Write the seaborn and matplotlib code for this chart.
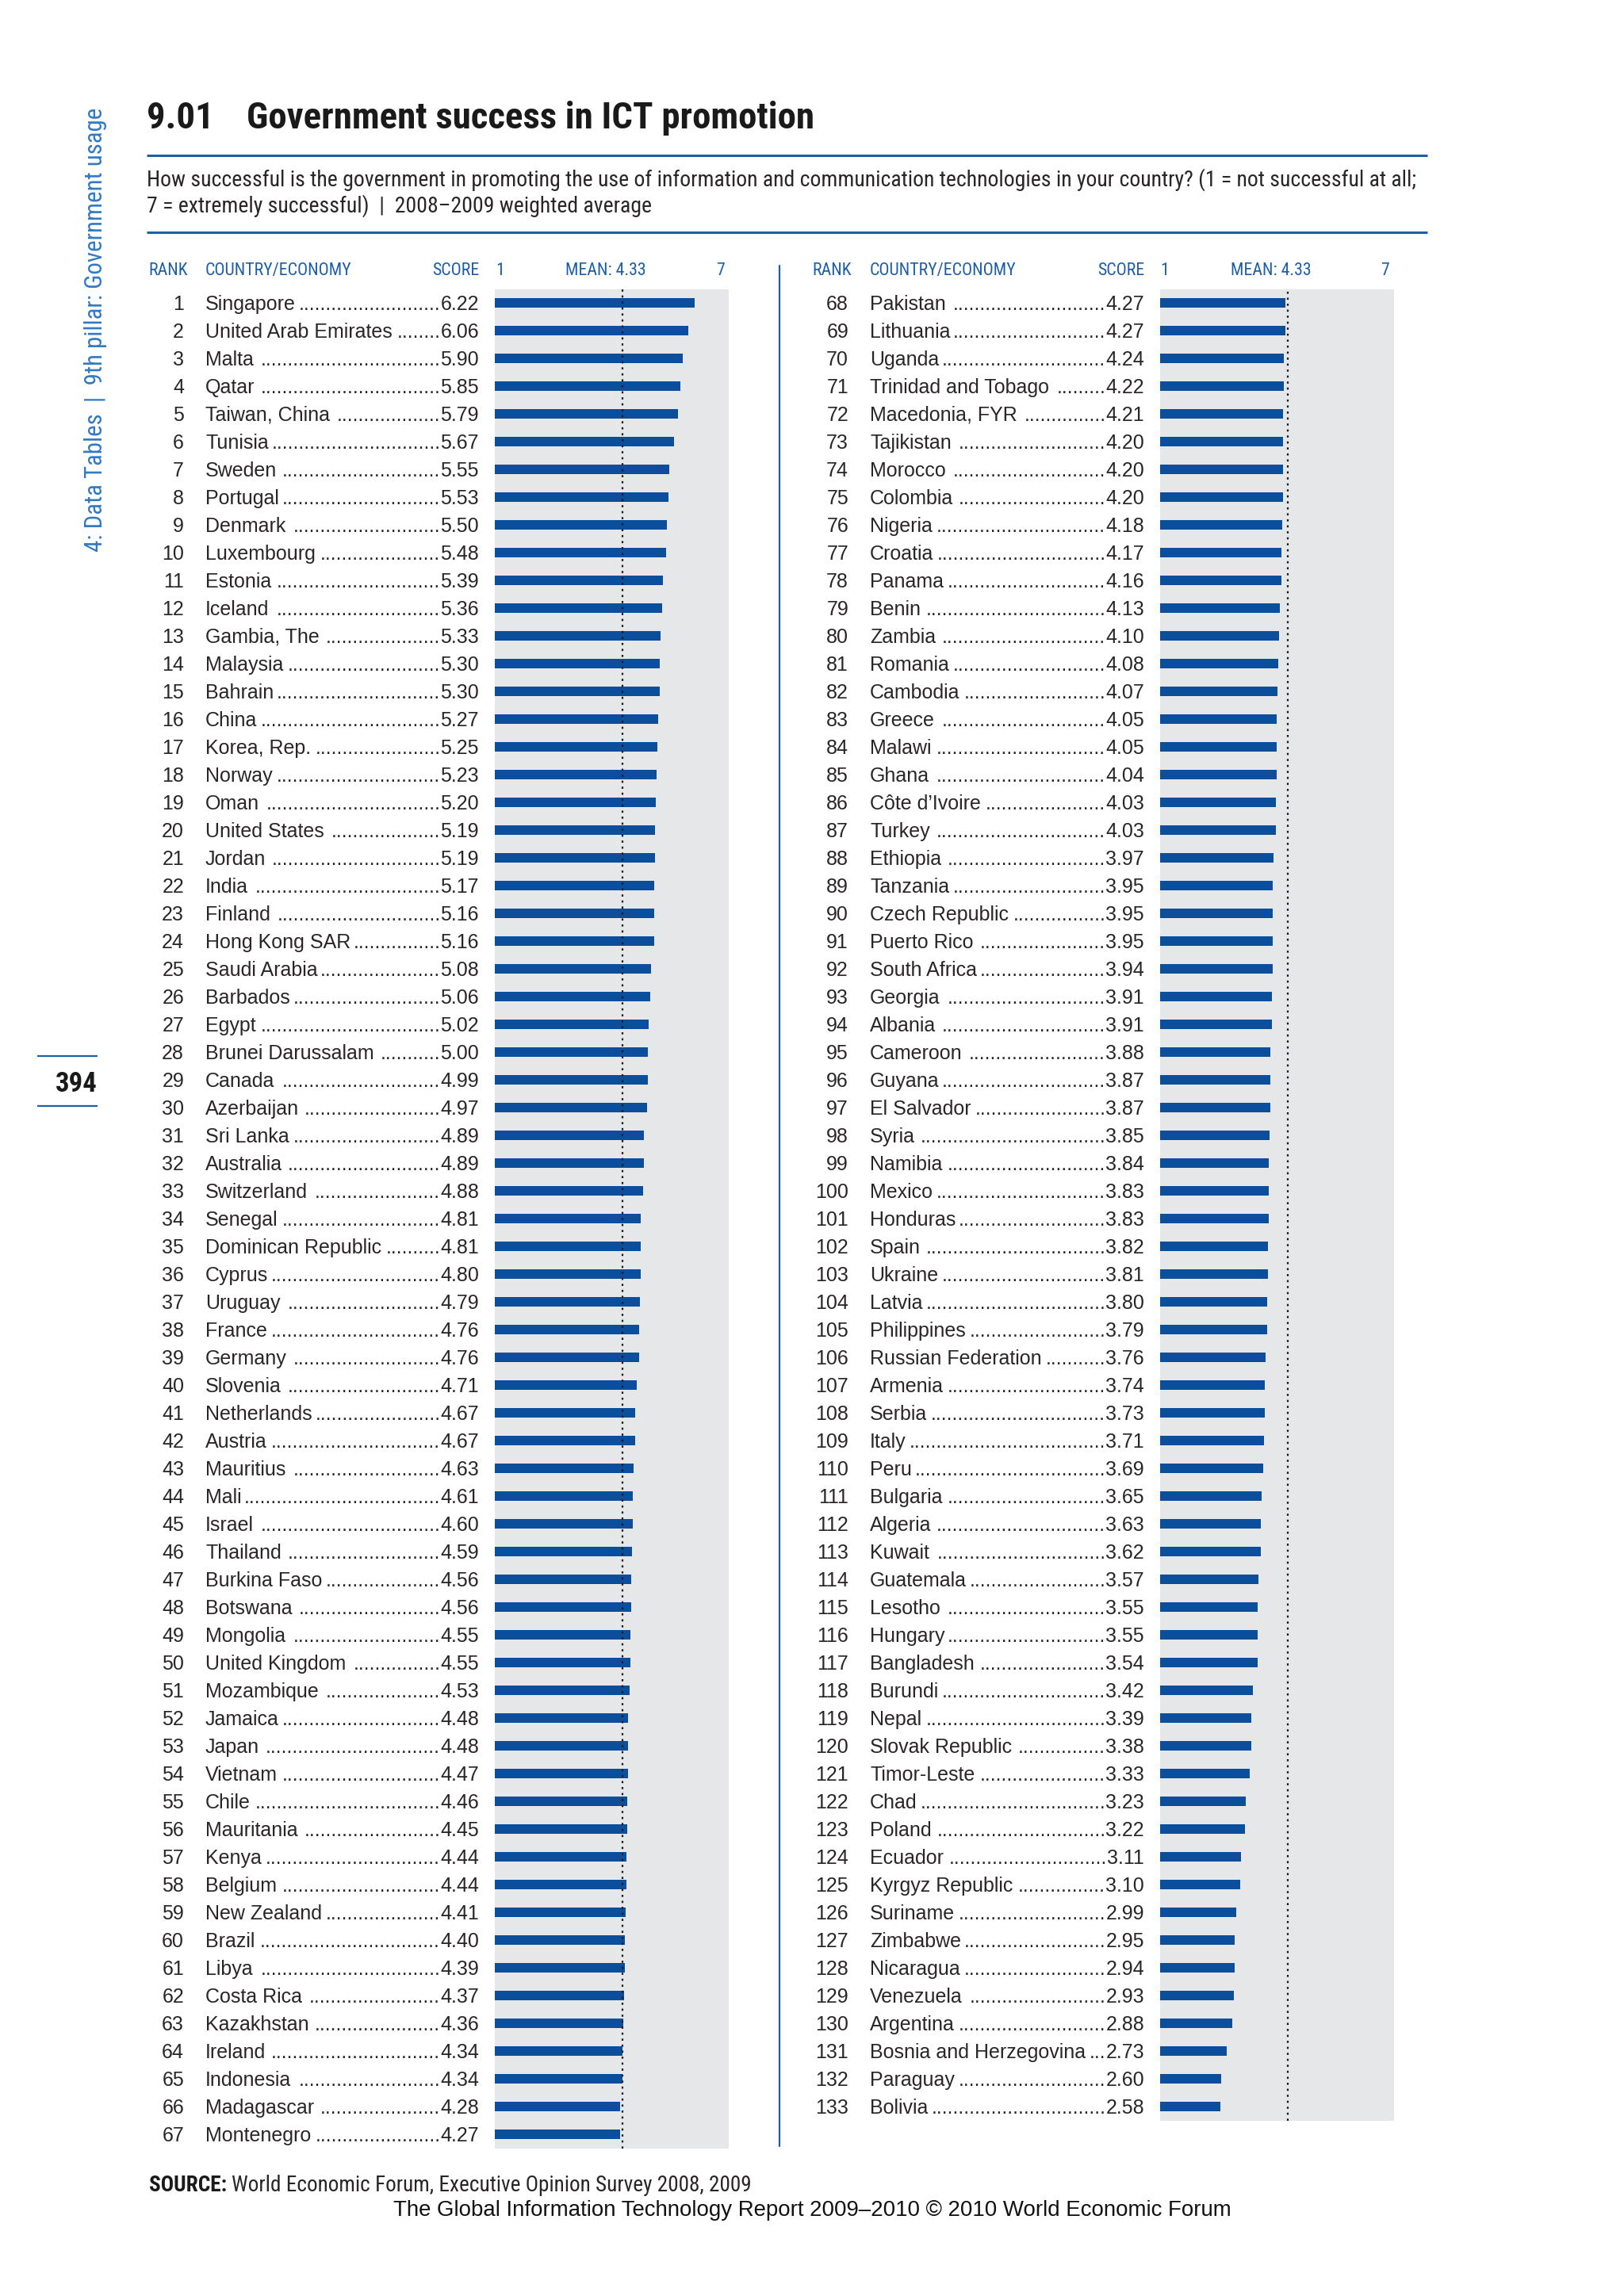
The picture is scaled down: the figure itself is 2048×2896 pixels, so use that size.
import matplotlib
matplotlib.use("Agg")
import matplotlib.pyplot as plt
import matplotlib.transforms as mtransforms
from matplotlib.lines import Line2D
from matplotlib import font_manager
import pandas as pd
import seaborn as sns

# ---------------- data ----------------
ranks_left = list(range(1, 68))
countries_left = [
    "Singapore", "United Arab Emirates", "Malta", "Qatar", "Taiwan, China", "Tunisia",
    "Sweden", "Portugal", "Denmark", "Luxembourg", "Estonia", "Iceland", "Gambia, The",
    "Malaysia", "Bahrain", "China", "Korea, Rep.", "Norway", "Oman", "United States",
    "Jordan", "India", "Finland", "Hong Kong SAR", "Saudi Arabia", "Barbados", "Egypt",
    "Brunei Darussalam", "Canada", "Azerbaijan", "Sri Lanka", "Australia", "Switzerland",
    "Senegal", "Dominican Republic", "Cyprus", "Uruguay", "France", "Germany", "Slovenia",
    "Netherlands", "Austria", "Mauritius", "Mali", "Israel", "Thailand", "Burkina Faso",
    "Botswana", "Mongolia", "United Kingdom", "Mozambique", "Jamaica", "Japan", "Vietnam",
    "Chile", "Mauritania", "Kenya", "Belgium", "New Zealand", "Brazil", "Libya",
    "Costa Rica", "Kazakhstan", "Ireland", "Indonesia", "Madagascar", "Montenegro",
]
scores_left = [
    6.22, 6.06, 5.90, 5.85, 5.79, 5.67, 5.55, 5.53, 5.50, 5.48, 5.39, 5.36, 5.33, 5.30,
    5.30, 5.27, 5.25, 5.23, 5.20, 5.19, 5.19, 5.17, 5.16, 5.16, 5.08, 5.06, 5.02, 5.00,
    4.99, 4.97, 4.89, 4.89, 4.88, 4.81, 4.81, 4.80, 4.79, 4.76, 4.76, 4.71, 4.67, 4.67,
    4.63, 4.61, 4.60, 4.59, 4.56, 4.56, 4.55, 4.55, 4.53, 4.48, 4.48, 4.47, 4.46, 4.45,
    4.44, 4.44, 4.41, 4.40, 4.39, 4.37, 4.36, 4.34, 4.34, 4.28, 4.27,
]
ranks_right = list(range(68, 134))
countries_right = [
    "Pakistan", "Lithuania", "Uganda", "Trinidad and Tobago", "Macedonia, FYR",
    "Tajikistan", "Morocco", "Colombia", "Nigeria", "Croatia", "Panama", "Benin", "Zambia",
    "Romania", "Cambodia", "Greece", "Malawi", "Ghana", "Côte d’Ivoire", "Turkey",
    "Ethiopia", "Tanzania", "Czech Republic", "Puerto Rico", "South Africa", "Georgia",
    "Albania", "Cameroon", "Guyana", "El Salvador", "Syria", "Namibia", "Mexico",
    "Honduras", "Spain", "Ukraine", "Latvia", "Philippines", "Russian Federation",
    "Armenia", "Serbia", "Italy", "Peru", "Bulgaria", "Algeria", "Kuwait", "Guatemala",
    "Lesotho", "Hungary", "Bangladesh", "Burundi", "Nepal", "Slovak Republic",
    "Timor-Leste", "Chad", "Poland", "Ecuador", "Kyrgyz Republic", "Suriname", "Zimbabwe",
    "Nicaragua", "Venezuela", "Argentina", "Bosnia and Herzegovina", "Paraguay", "Bolivia",
]
scores_right = [
    4.27, 4.27, 4.24, 4.22, 4.21, 4.20, 4.20, 4.20, 4.18, 4.17, 4.16, 4.13, 4.10, 4.08,
    4.07, 4.05, 4.05, 4.04, 4.03, 4.03, 3.97, 3.95, 3.95, 3.95, 3.94, 3.91, 3.91, 3.88,
    3.87, 3.87, 3.85, 3.84, 3.83, 3.83, 3.82, 3.81, 3.80, 3.79, 3.76, 3.74, 3.73, 3.71,
    3.69, 3.65, 3.63, 3.62, 3.57, 3.55, 3.55, 3.54, 3.42, 3.39, 3.38, 3.33, 3.23, 3.22,
    3.11, 3.10, 2.99, 2.95, 2.94, 2.93, 2.88, 2.73, 2.60, 2.58,
]
MEAN = 4.33
scale_labels = ["1", "MEAN: 4.33", "7"]
header_labels = ["RANK", "COUNTRY/ECONOMY", "SCORE"]
title_number = "9.01"
title_text = "Government success in ICT promotion"
subtitle_1 = ("How successful is the government in promoting the use of information and "
              "communication technologies in your country? (1 = not successful at all;")
subtitle_2 = "7 = extremely successful)  |  2008–2009 weighted average"
sidebar_text = "4: Data Tables  |  9th pillar: Government usage"
page_number = "394"
source_bold = "SOURCE:"
source_text = "World Economic Forum, Executive Opinion Survey 2008, 2009"
footer_text = "The Global Information Technology Report 2009–2010 © 2010 World Economic Forum"

# ---------------- style ----------------
sns.set_theme(style="white")
names = {f.name for f in font_manager.fontManager.ttflist}


def pick(cands):
    for c in cands:
        if c in names:
            return c
    return "DejaVu Sans"


NARROW = pick(["Liberation Sans Narrow", "Roboto Condensed", "Open Sans Condensed",
               "Liberation Sans"])
REG = pick(["Liberation Sans", "Arial", "DejaVu Sans"])
plt.rcParams["font.family"] = [REG, "DejaVu Sans"]

BAR = "#0b4f9c"
GRAY = "#e6e7e9"
BLUE = "#1f5fa6"
HEAD = "#1d5ea8"
SIDE = "#3279c2"
TXT = "#2a2627"

W, H = 2048, 2896
fig = plt.figure(figsize=(W / 100, H / 100), dpi=100)
fig.patch.set_facecolor("white")
renderer = fig.canvas.get_renderer()


def fx(x):
    return x / W


def fy(y):
    return 1 - y / H


def fit_width(t, target):
    w = t.get_window_extent(renderer).width
    t.set_fontsize(t.get_fontsize() * target / w)


def hline(x0, x1, y, lw=2.2, color=BLUE):
    fig.add_artist(Line2D([fx(x0), fx(x1)], [fy(y), fy(y)], transform=fig.transFigure,
                          color=color, lw=lw, solid_capstyle="butt"))


# ---------------- header ----------------
t_main = fig.text(fx(311), fy(162), title_text, fontsize=33, fontweight="bold",
                  family=[NARROW, "DejaVu Sans"], color="#1a1a1a", ha="left", va="baseline")
fit_width(t_main, 717)
fig.text(fx(185), fy(162), title_number, fontsize=t_main.get_fontsize(), fontweight="bold",
         family=[NARROW, "DejaVu Sans"], color="#1a1a1a", ha="left", va="baseline")
hline(185, 1800, 196)
t_s1 = fig.text(fx(185), fy(235), subtitle_1, fontsize=17, family=[NARROW, "DejaVu Sans"],
                color=TXT, ha="left", va="baseline")
fit_width(t_s1, 1598)
fig.text(fx(185), fy(268), subtitle_2, fontsize=t_s1.get_fontsize(),
         family=[NARROW, "DejaVu Sans"], color=TXT, ha="left", va="baseline")
hline(185, 1800, 293)

# sidebar
t_side = fig.text(fx(121), fy(416), sidebar_text, rotation=90, fontsize=18,
                  family=[NARROW, "DejaVu Sans"], color=SIDE, ha="center", va="center")
bb = t_side.get_window_extent(renderer)
t_side.set_fontsize(t_side.get_fontsize() * 560 / bb.height)
hline(47, 123, 1332, lw=1.6)
hline(47, 123, 1395, lw=1.6)
fig.text(fx(123), fy(1377), page_number, fontsize=25, fontweight="bold",
         family=[NARROW, "DejaVu Sans"], color="#1a1a1a", ha="right", va="baseline")

# divider
fig.add_artist(Line2D([fx(983), fx(983)], [fy(335), fy(2707)], transform=fig.transFigure,
                      color=BLUE, lw=1.6))

# ---------------- panels ----------------
SCALE = 48.3      # px per score unit
PANEL_W = 295
ROW = 35
TOP = 364.5
xmax = 1 + PANEL_W / SCALE
ROW_FS = 18
cap_half = 0.716 * ROW_FS / 72 / 2  # inches

columns = [
    dict(x_bar=624, x_rank=232, x_name=259, x_score=604,
         ranks=ranks_left, countries=countries_left, scores=scores_left,
         heads=[187, 259, 604], scl=[631, 764, 908]),
    dict(x_bar=1463, x_rank=1070, x_name=1097, x_score=1443,
         ranks=ranks_right, countries=countries_right, scores=scores_right,
         heads=[1024, 1097, 1443], scl=[1469, 1603, 1746]),
]

# measure dot width
t_dot = fig.text(0, 0, "." * 40, fontsize=ROW_FS, family=[REG, "DejaVu Sans"])
dot_w = t_dot.get_window_extent(renderer).width / 40
t_dot.remove()

head_fs = None
for col in columns:
    n = len(col["scores"])
    h = n * ROW
    ax = fig.add_axes([fx(col["x_bar"]), fy(TOP + h), PANEL_W / W, h / H])
    df = pd.DataFrame({"rank": col["ranks"], "country": col["countries"],
                       "score": col["scores"]})
    sns.barplot(data=df, x="score", y="country", orient="h", color=BAR, width=0.36,
                saturation=1, edgecolor="none", linewidth=0, ax=ax)
    ax.set_xlim(1, xmax)
    ax.set_ylim(n - 0.5, -0.5)
    ax.set_facecolor(GRAY)
    ax.axvline(MEAN, color="#1a1a1a", lw=1.6, linestyle=(0, (1.2, 2.2)))
    ax.set_xticks([])
    ax.set_yticks([])
    ax.set_xlabel("")
    ax.set_ylabel("")
    for s in ax.spines.values():
        s.set_visible(False)

    trans = mtransforms.blended_transform_factory(fig.transFigure, ax.transData)
    off = mtransforms.ScaledTranslation(0, -cap_half, fig.dpi_scale_trans)
    tr = trans + off
    for i, (r, c, s) in enumerate(zip(col["ranks"], col["countries"], col["scores"])):
        fig.text(fx(col["x_rank"]), i, str(r), transform=tr, fontsize=ROW_FS, color=TXT,
                 ha="right", va="baseline")
        tn = fig.text(fx(col["x_name"]), i, c, transform=tr, fontsize=ROW_FS, color=TXT,
                      ha="left", va="baseline")
        ts = fig.text(fx(col["x_score"]), i, f"{s:.2f}", transform=tr, fontsize=ROW_FS,
                      color=TXT, ha="right", va="baseline")
        nb = tn.get_window_extent(renderer)
        sb = ts.get_window_extent(renderer)
        k = int((sb.x0 - nb.x1 - 3) // dot_w)
        if k > 0:
            fig.text(sb.x0 / W, i, "." * k, transform=tr, fontsize=ROW_FS, color=TXT,
                     ha="right", va="baseline")

    # column headers
    hx = col["heads"]
    th = []
    for j, (lab, x) in enumerate(zip(header_labels, hx)):
        t = fig.text(fx(x), fy(347), lab, fontsize=13, family=[NARROW, "DejaVu Sans"],
                     color=HEAD, ha="right" if j == 2 else "left", va="baseline")
        th.append(t)
    if head_fs is None:
        w = th[1].get_window_extent(renderer).width
        head_fs = 13 * 184 / w
    for t in th:
        t.set_fontsize(head_fs)
    for lab, x in zip(scale_labels, col["scl"]):
        fig.text(fx(x), fy(347), lab, fontsize=head_fs, family=[NARROW, "DejaVu Sans"],
                 color=HEAD, ha="center", va="baseline")

# ---------------- footer ----------------
t_sb = fig.text(fx(188), fy(2764), source_bold, fontsize=16, fontweight="bold",
                family=[NARROW, "DejaVu Sans"], color="#1a1a1a", ha="left", va="baseline")
t_sr = fig.text(fx(188), fy(2764), source_text, fontsize=16,
                family=[NARROW, "DejaVu Sans"], color=TXT, ha="left", va="baseline")
wb = t_sb.get_window_extent(renderer).width
wr = t_sr.get_window_extent(renderer).width
f = 762 / (wb + wr + 6)
t_sb.set_fontsize(16 * f)
t_sr.set_fontsize(16 * f)
wb = t_sb.get_window_extent(renderer).width
t_sr.set_x(fx(188 + wb + 6))

t_ft = fig.text(fx(1024), fy(2795), footer_text, fontsize=18, family=[REG, "DejaVu Sans"],
                color="#111111", ha="center", va="baseline")
fit_width(t_ft, 1057)

fig.savefig("out.png", dpi=100, facecolor="white")
